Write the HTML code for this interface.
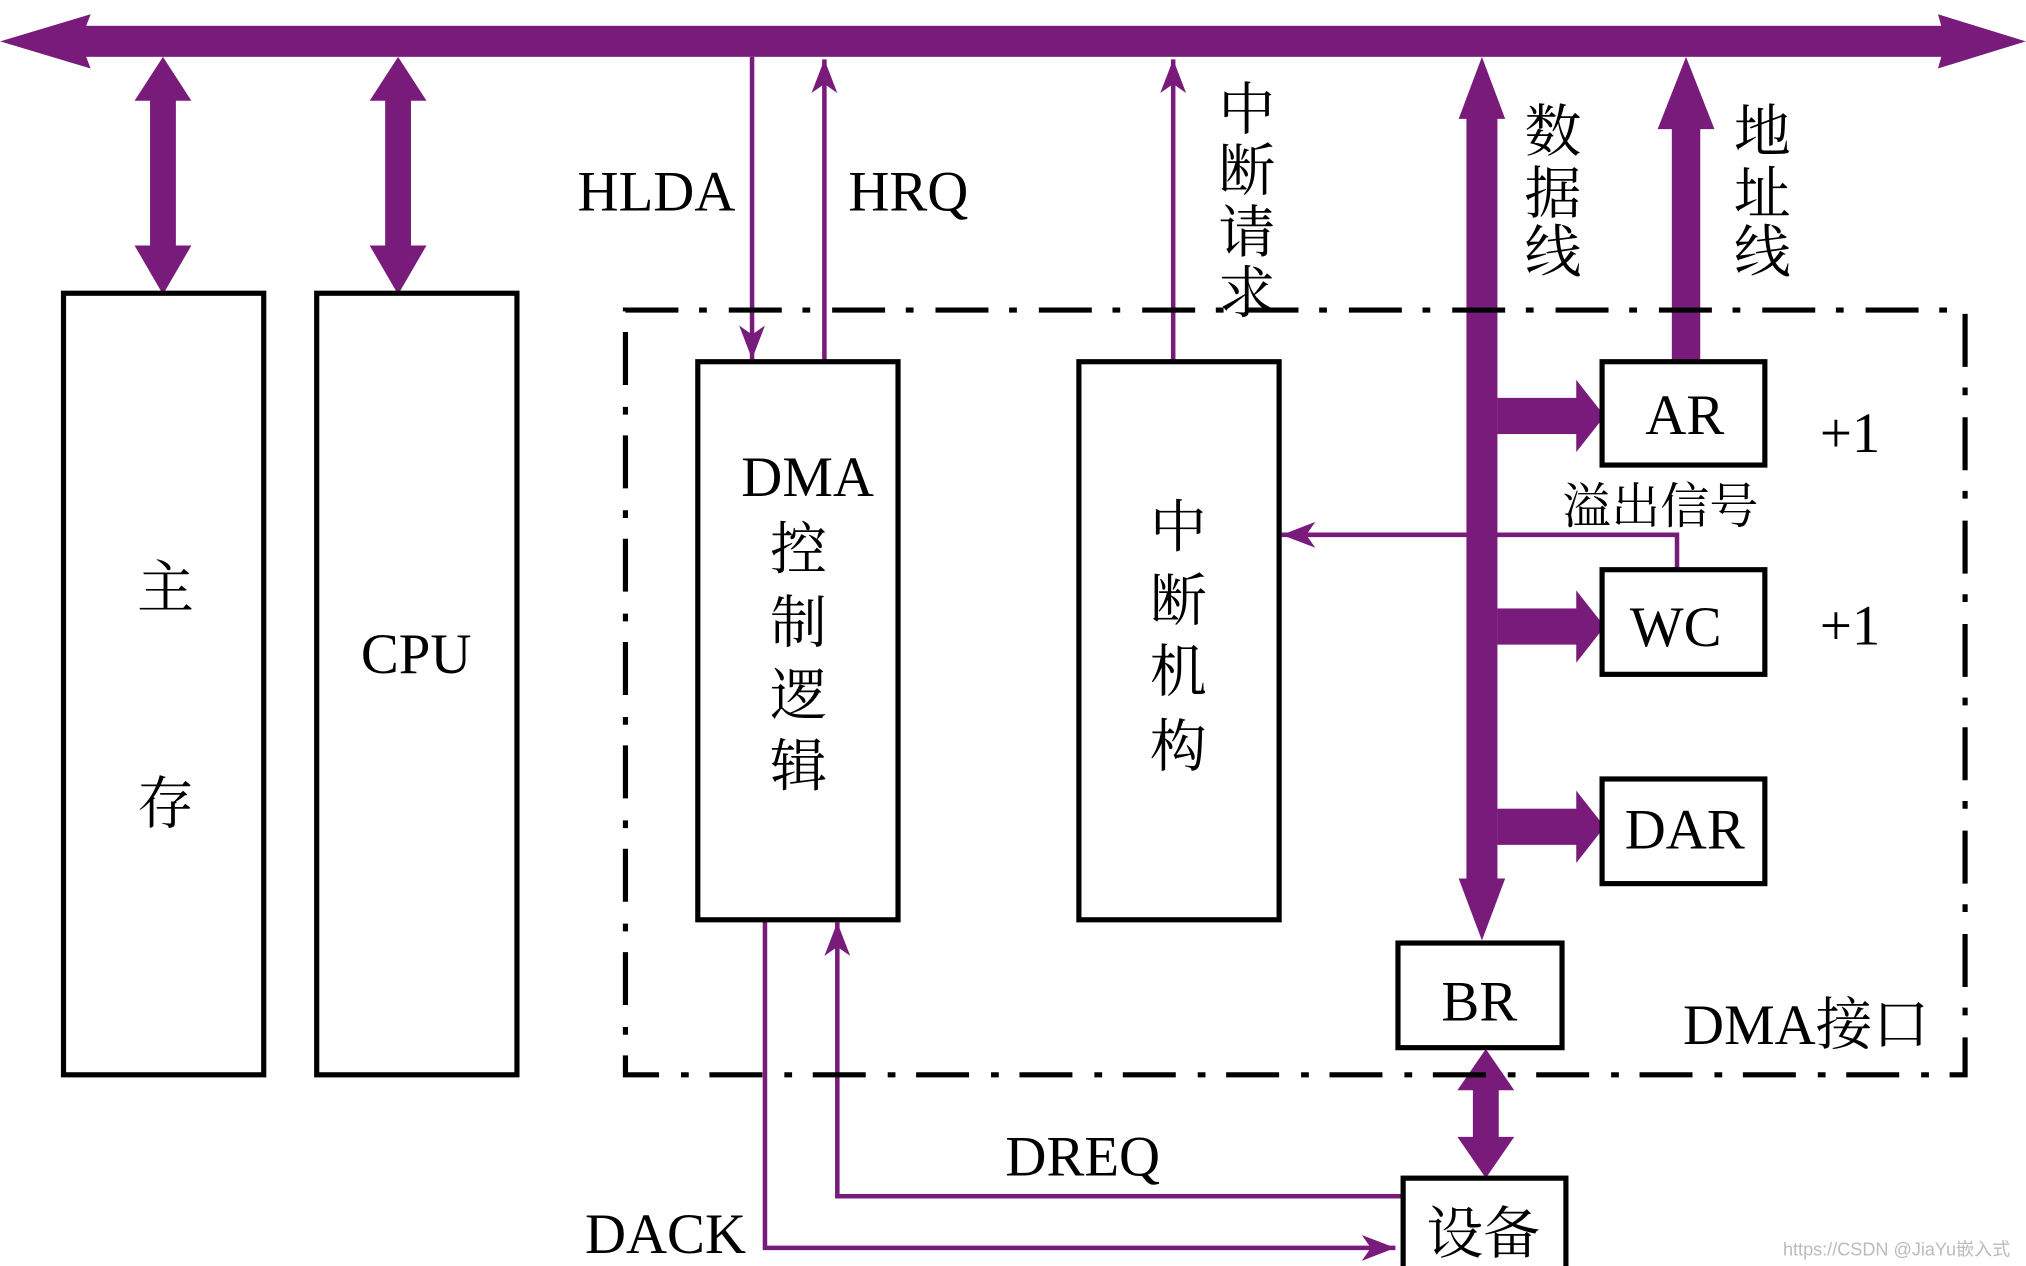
<!DOCTYPE html>
<html><head><meta charset="utf-8"><style>html,body{margin:0;padding:0;background:#fff}svg{display:block}</style></head><body>
<svg xmlns="http://www.w3.org/2000/svg" width="2026" height="1266" viewBox="0 0 1568 980">
<defs>
<marker id="a" viewBox="0 0 26 20" refX="26" refY="10" markerWidth="26" markerHeight="20" markerUnits="userSpaceOnUse" orient="auto"><path d="M0,0 L26,10 L0,20 L7,10 Z" fill="#781b7a"/></marker>
</defs>
<g fill="#781b7a">
<rect x="60" y="20" width="1450" height="24"/>
<polygon points="0,32 70,11 62,32 70,53"/>
<polygon points="1568,32 1500,11 1506,32 1500,53"/>
<rect x="116" y="75" width="20" height="120"/>
<polygon points="126,44 104,78 148,78"/><polygon points="126,228 104,190 148,190"/>
<rect x="298" y="75" width="20" height="120"/>
<polygon points="308,44 286,78 330,78"/><polygon points="308,228 286,190 330,190"/>
<rect x="1135" y="88" width="24" height="596"/>
<polygon points="1147,44 1129,92 1165,92"/><polygon points="1147,728 1129,680 1165,680"/>
<rect x="1159" y="308" width="64" height="28"/><polygon points="1242,322 1220,294 1220,350"/>
<rect x="1159" y="471" width="64" height="28"/><polygon points="1242,485 1220,457 1220,513"/>
<rect x="1159" y="626" width="64" height="28"/><polygon points="1242,640 1220,612 1220,668"/>
<rect x="1294" y="96" width="22" height="184"/>
<polygon points="1305,44 1283,100 1327,100"/>
<rect x="1140" y="840" width="20" height="50"/>
<polygon points="1150,812 1128,844 1172,844"/><polygon points="1150,912 1128,880 1172,880"/>
</g>
<g stroke="#781b7a" stroke-width="3.5" fill="none">
<line x1="582" y1="44" x2="582" y2="278" marker-end="url(#a)"/>
<line x1="638" y1="280" x2="638" y2="46" marker-end="url(#a)"/>
<line x1="908" y1="280" x2="908" y2="46" marker-end="url(#a)"/>
<polyline points="1298,441 1298,414 992,414" marker-end="url(#a)"/>
<polyline points="1086,926 648,926 648,714" marker-end="url(#a)"/>
<polyline points="592,712 592,966 1080,966" marker-end="url(#a)"/>
</g>
<g stroke="#000" stroke-width="4" fill="none">
<rect x="49" y="227" width="155" height="605"/>
<rect x="245" y="227" width="155" height="605"/>
<rect x="484" y="240" width="1037" height="592" stroke-dasharray="41 16 6 17"/>
<rect x="540" y="280" width="155" height="432" fill="#fff"/>
<rect x="835" y="280" width="155" height="432" fill="#fff"/>
<rect x="1240" y="280" width="126" height="80" fill="#fff"/>
<rect x="1240" y="441" width="126" height="81" fill="#fff"/>
<rect x="1240" y="603" width="126" height="81" fill="#fff"/>
<rect x="1082" y="730" width="127" height="81" fill="#fff"/>
<rect x="1086" y="912" width="126" height="80" fill="#fff"/>
</g>
<g font-family="Liberation Serif, Noto Serif CJK SC, serif" font-size="44" fill="#000" text-anchor="middle">
<text x="128" y="470">主</text><text x="128" y="637">存</text>
<text x="322" y="521">CPU</text>
<text x="625" y="384">DMA</text>
<text x="618" y="440">控</text><text x="618" y="497">制</text><text x="618" y="553">逻</text><text x="618" y="608">辑</text>
<text x="912" y="423">中</text><text x="912" y="480">断</text><text x="912" y="535">机</text><text x="912" y="593">构</text>
<text x="508" y="163">HLDA</text><text x="703" y="163">HRQ</text>
<text x="965" y="100">中</text><text x="965" y="147">断</text><text x="965" y="195">请</text><text x="965" y="242">求</text>
<text x="1202" y="117">数</text><text x="1202" y="165">据</text><text x="1202" y="210">线</text>
<text x="1364" y="117">地</text><text x="1364" y="165">址</text><text x="1364" y="210">线</text>
<text x="1304" y="336">AR</text><text x="1297" y="500">WC</text><text x="1304" y="657">DAR</text>
<text x="1145" y="790">BR</text><text x="1148" y="970">设备</text>
<text x="1432" y="350">+1</text><text x="1432" y="499">+1</text>
<text x="1285" y="405" font-size="38">溢出信号</text>
<text x="838" y="910">DREQ</text><text x="515" y="970">DACK</text>
<text x="1398" y="808">DMA接口</text>
</g>
<text x="1556" y="972" font-family="Liberation Sans, Noto Sans CJK SC, sans-serif" font-size="14" fill="#bbb" text-anchor="end">https://CSDN @JiaYu嵌入式</text>
</svg>
</body></html>
